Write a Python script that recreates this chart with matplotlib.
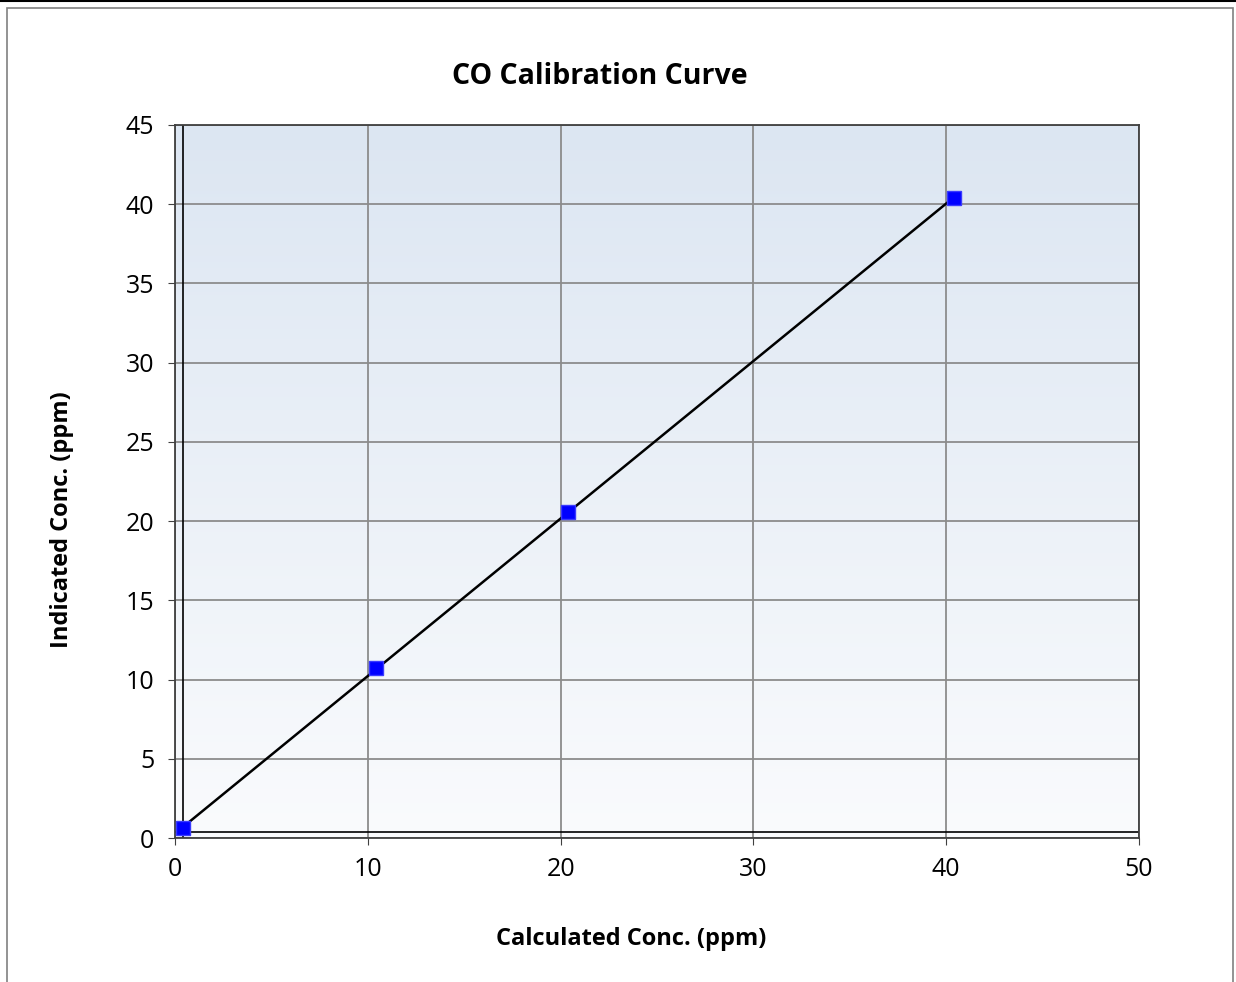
import numpy as np
import matplotlib.pyplot as plt
from matplotlib.patches import Rectangle
from matplotlib.lines import Line2D

# calibration points
calc_conc = [0.4, 10.4, 20.4, 40.4]
ind_conc = [0.6, 10.7, 20.6, 40.4]

plt.rcParams['font.family'] = ['Open Sans', 'DejaVu Sans']

fig = plt.figure(figsize=(12.36, 9.82), dpi=100)
ax = fig.add_axes([175/1236, 1-838/982, (1139-175)/1236, (838-125)/982])

# outer frame like the excel chart area
fig.add_artist(Rectangle((7/1236, -0.01), (1233-7)/1236, 1-8/982+0.01, transform=fig.transFigure,
                         fill=False, edgecolor='#808080', linewidth=1.2))
fig.add_artist(Line2D([0, 1], [1-1/982, 1-1/982], transform=fig.transFigure, color='black', linewidth=1.5))

ax.set_xlim(0, 50)
ax.set_ylim(0, 45)

# gradient plot area
grad = np.linspace(0, 1, 256).reshape(-1, 1)
top = np.array([0xdc, 0xe6, 0xf2]) / 255
bot = np.array([0xfa, 0xfb, 0xfd]) / 255
img = bot + grad * (top - bot)
ax.imshow(img[:, None, :].repeat(2, axis=1), extent=[0, 50, 0, 45], origin='lower', aspect='auto', zorder=0)

ax.set_xticks(range(0, 51, 10))
ax.set_yticks(range(0, 46, 5))
ax.grid(True, color='#8c8c8c', linewidth=1.3, zorder=1)
ax.axvline(0.4, color='black', linewidth=1.2, zorder=2)
ax.axhline(0.4, color='black', linewidth=1.2, zorder=2)

# trendline
k, b = np.polyfit(calc_conc, ind_conc, 1)
xs = np.array([min(calc_conc), max(calc_conc)])
ax.plot(xs, k*xs + b, color='black', linewidth=1.8, zorder=3)
ax.plot(calc_conc, ind_conc, 's', color='#0000ff', markersize=10, markeredgecolor='#3a3aff', zorder=4)

for s in ax.spines.values():
    s.set_color('#404040')
    s.set_linewidth(1.3)
ax.tick_params(labelsize=18, length=5, color='#404040', direction='out')
ax.tick_params(axis='x', pad=9)
ax.tick_params(axis='y', pad=10)

fig.text(600/1236, 1-77/982, 'CO Calibration Curve', fontsize=20.5, fontweight='bold', ha='center', va='center')
fig.text(631/1236, 1-939/982, 'Calculated Conc. (ppm)', fontsize=17, fontweight='bold', ha='center', va='center')
fig.text(62/1236, 1-520/982, 'Indicated Conc. (ppm)', fontsize=17, fontweight='bold', ha='center', va='center',
         rotation=90)

fig.savefig('out.png', dpi=100)
